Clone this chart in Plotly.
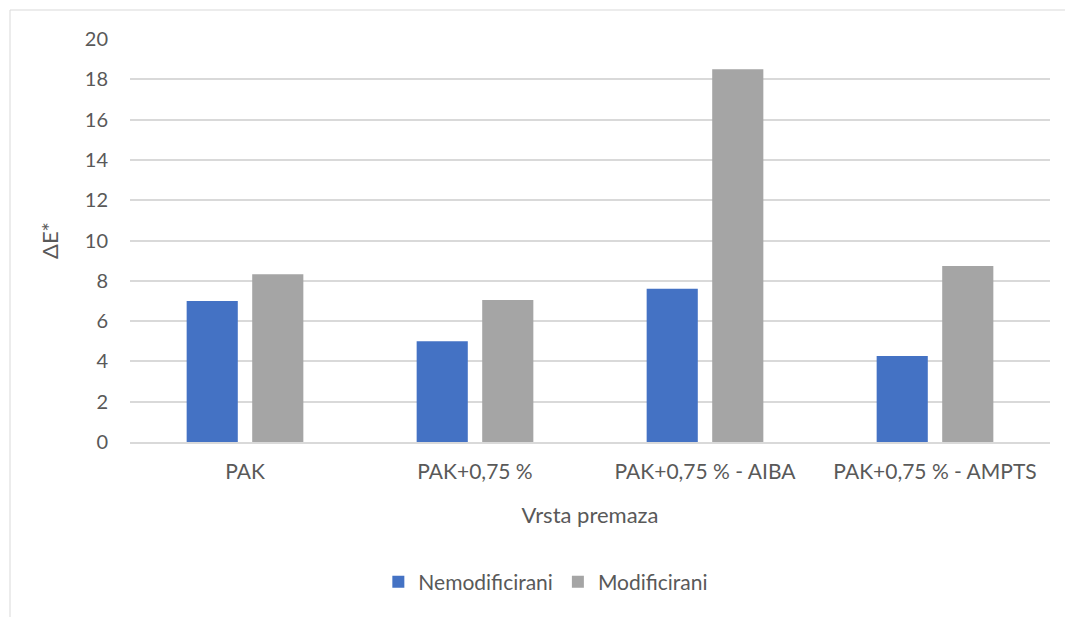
import plotly.graph_objects as go

categories = ["PAK", "PAK+0,75 %", "PAK+0,75 % - AIBA", "PAK+0,75 % - AMPTS"]
nemodificirani = [7.0, 5.0, 7.6, 4.27]
modificirani = [8.33, 7.05, 18.5, 8.73]
y_ticks = [0, 2, 4, 6, 8, 10, 12, 14, 16, 18, 20]

OFF = 8  # page body margin
W, H = 1073 - OFF, 617 - OFF
ml, mt = 130 - OFF, 39 - OFF
mr = W - (1050 - OFF)
mb = H - (442 - OFF)
pw, ph = W - ml - mr, H - mt - mb
font = "Lato, 'Open Sans', sans-serif"
txt = "#595959"

fig = go.Figure()
fig.add_trace(go.Bar(x=categories, y=nemodificirani, name="Nemodificirani",
                     marker=dict(color="#4472C4", line=dict(width=0))))
fig.add_trace(go.Bar(x=categories, y=modificirani, name="Modificirani",
                     marker=dict(color="#A5A5A5", line=dict(width=0))))

fig.update_layout(
    width=W, height=H,
    margin=dict(l=ml, r=mr, t=mt, b=mb),
    paper_bgcolor="white", plot_bgcolor="white",
    barmode="group", bargap=0.43, bargroupgap=0.22,
    font=dict(family=font, color=txt, size=21),
    xaxis=dict(showgrid=False, showline=True, linecolor="#d9d9d9", linewidth=1.5,
               ticks="", tickfont=dict(size=21, color=txt), ticklabelstandoff=10,
               title=dict(text="Vrsta premaza", font=dict(size=22, color=txt), standoff=26)),
    yaxis=dict(range=[0, 20], tickvals=y_ticks, showgrid=True, gridcolor="#d9d9d9",
               gridwidth=1.5, zeroline=False, showline=False, ticks="",
               tickfont=dict(size=20, color=txt), ticklabelstandoff=21,
               title=dict(text="ΔE*", font=dict(size=22, color=txt), standoff=20)),
    legend=dict(orientation="h", x=0.452, xanchor="center",
                y=-(574 - (442 - OFF)) / ph, yanchor="middle",
                font=dict(size=21, color=txt), itemwidth=30, traceorder="normal"),
    shapes=[dict(type="rect", xref="paper", yref="paper",
                 x0=(2 - ml) / pw, x1=(W + 5 - ml) / pw,
                 y0=(H - mb - (H + 5)) / ph, y1=(H - mb - 2) / ph,
                 line=dict(color="#d9d9d9", width=1), fillcolor="rgba(0,0,0,0)", layer="below")],
)

fig.write_html("out.html")
